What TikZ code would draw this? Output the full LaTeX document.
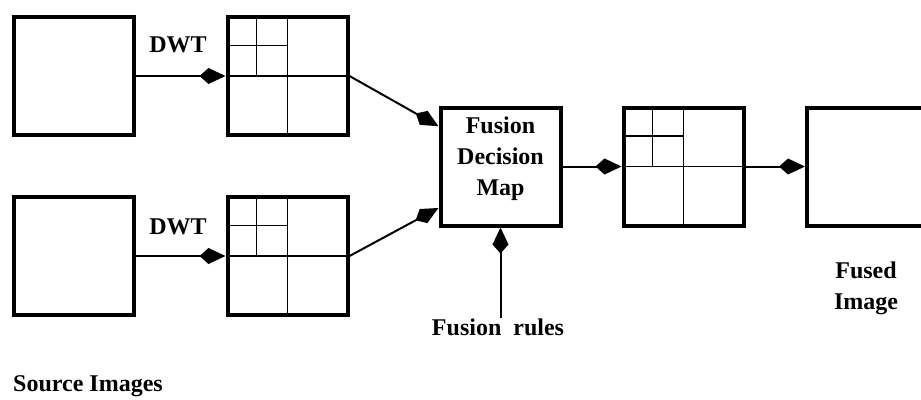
\documentclass[tikz,border=0pt]{standalone}
\usepackage{fontspec}
\setmainfont{Liberation Serif}
\usetikzlibrary{arrows.meta,calc}
\begin{document}
\begin{tikzpicture}[x=1pt,y=-1pt,
 box/.style={draw, line width=4pt, minimum width=120pt, minimum height=118pt, inner sep=0pt},
 arr/.style={line width=2pt, -{Kite[length=26pt,width=16pt,inset=9pt]}},
 gridline/.style={line width=1.6pt},
 lbl/.style={font=\bfseries\fontsize{24}{31}\selectfont, inner sep=0pt, align=center}]
\useasboundingbox (0,0) rectangle (921,399);
\clip (0,0) rectangle (921,399);
% source images
\node[box] (a1) at (74,76) {};
\node[box] (a2) at (74,256) {};
% wavelet decompositions
\node[box] (b1) at (287.5,76) {};
\node[box] (b2) at (287.5,256) {};
% fusion decision map
\node[box] (fus) at (500.5,166.5) {};
\node[lbl] (fustxt) at (500.5,159) {Fusion\\Decision\\Map};
% fused decomposition
\node[box] (w3) at (683.5,166.5) {};
% fused image
\node[box] (out) at (867,166.5) {};
% grids
\foreach \n in {b1,b2,w3}{
  \draw[gridline] (\n.north) -- (\n.south);
  \draw[gridline] (\n.west) -- (\n.east);
  \draw[gridline] ($(\n.north west)!0.5!(\n.west)$) -- ($(\n.north)!0.5!(\n.center)$);
  \draw[gridline] ($(\n.north west)!0.5!(\n.north)$) -- ($(\n.west)!0.5!(\n.center)$);
}
% connectors
\draw[arr] (a1.east) -- (b1.west);
\draw[arr] (a2.east) -- (b2.west);
\draw[arr] (b1.east) -- ($(fus.north west)!0.17!(fus.south west)$);
\draw[arr] (b2.east) -- ($(fus.north west)!0.84!(fus.south west)$);
\draw[arr] (fus.east) -- (w3.west);
\draw[arr] (w3.east) -- (out.west);
% labels
\node[lbl] (dwt1) at (178,45) {DWT};
\node[lbl] (dwt2) at (178,227) {DWT};
\node[lbl] (rules) at (498,327) {Fusion\ \ rules};
\draw[arr] (fus.south |- rules.north) -- (fus.south);
\node[lbl] (fused) at (866,288) {Fused\\Image};
\node[lbl] (src) at (88,386) {Source Images};
\end{tikzpicture}
\end{document}
